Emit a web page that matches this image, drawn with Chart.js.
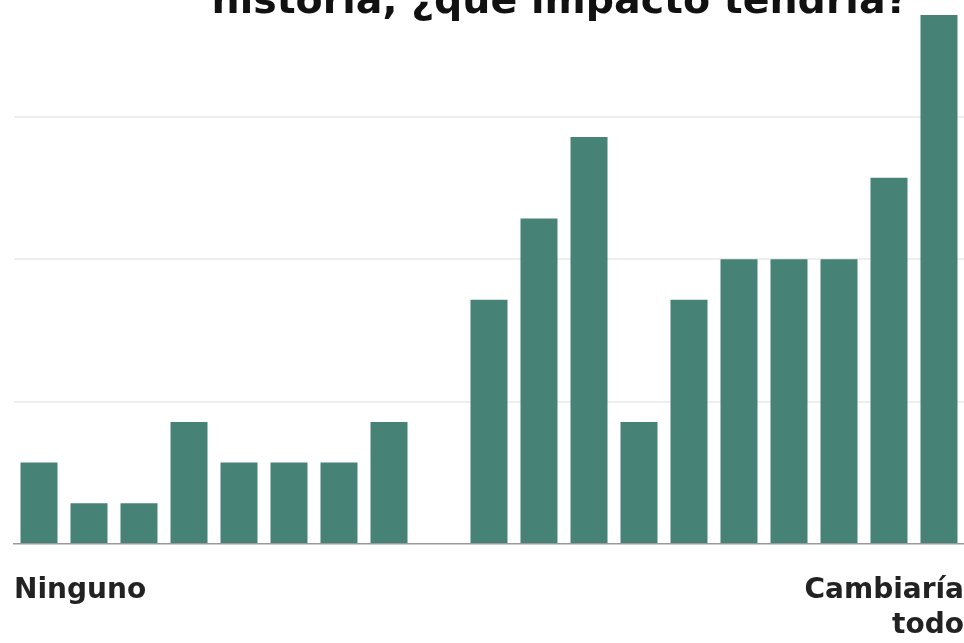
<!DOCTYPE html>
<html>
<head>
<meta charset="utf-8">
<script src="https://cdn.jsdelivr.net/npm/chart.js@4"></script>
<style>
    html, body { margin: 0; padding: 0; background: #fff; overflow: hidden; }
    #chartWrap { position: relative; width: 964px; height: 643px; }
</style>
</head>
<body>
<div id="chartWrap"><canvas id="myChart"></canvas></div>
<script>
// answers per point of the scale (19 points, one without answers)
var categories = ['1', '2', '3', '4', '5', '6', '7', '8', '9', '10',
    '11', '12', '13', '14', '15', '16', '17', '18', '19'];
var responses = [2, 1, 1, 3, 2, 2, 2, 3, 0, 6, 8, 10, 3, 6, 7, 7, 7, 9, 13];
var edgeLabels = ['Ninguno', ['Cambiaría', 'todo']];
var gridValues = [3.5, 7, 10.5];
var titleText = 'historia, ¿qué impacto tendría?';

var barColor = '#468276';
var fontFamily = "'DejaVu Sans', Verdana, sans-serif";

// the title is cut off at the top of the picture, only its last line shows
var titleLine = {
    id: 'titleLine',
    afterDraw: function (chart) {
        var ctx = chart.ctx;
        ctx.save();
        ctx.font = 'bold 39.5px ' + fontFamily;
        ctx.fillStyle = '#111';
        ctx.textAlign = 'center';
        ctx.textBaseline = 'alphabetic';
        ctx.fillText(titleText, 560, 13);
        ctx.restore();
    }
};

function createChart() {
    const config = {
        type: 'bar',
        data: {
            labels: categories,
            datasets: [{
                label: 'Respuestas',
                data: responses,
                backgroundColor: barColor,
                borderWidth: 0,
                barPercentage: 0.74,
                categoryPercentage: 1.0
            }]
        },
        options: {
            responsive: true,
            maintainAspectRatio: false,
            animation: false,
            layout: {
                padding: { left: 14, right: 0, top: 15, bottom: 0 }
            },
            plugins: {
                legend: { display: false },
                title: { display: false },
                tooltip: { enabled: false }
            },
            scales: {
                x: {
                    offset: true,
                    weight: 0,
                    // tick marks are hidden, their length only keeps the gap to the labels
                    grid: { display: false, drawTicks: true, tickLength: 29 },
                    border: { display: true, color: '#9a9a9a', width: 1.5 },
                    ticks: { display: false }
                },
                x2: {
                    type: 'category',
                    position: 'bottom',
                    labels: edgeLabels,
                    offset: false,
                    weight: 1,
                    grid: { display: false, drawTicks: false },
                    border: { display: false },
                    ticks: {
                        autoSkip: false,
                        maxRotation: 0,
                        align: 'inner',
                        padding: 0,
                        color: '#222',
                        font: { family: fontFamily, weight: 'bold', size: 28, lineHeight: 1.25 }
                    }
                },
                y: {
                    min: 0,
                    max: 13,
                    border: { display: false },
                    grid: {
                        drawTicks: false,
                        lineWidth: 2,
                        color: function (c) {
                            if (c.tick && gridValues.indexOf(c.tick.value) >= 0) {
                                return '#eeeeee';
                            }
                            return 'rgba(0,0,0,0)';
                        }
                    },
                    ticks: { display: false, stepSize: 3.5 }
                }
            }
        },
        plugins: [titleLine]
    };

    const ctx = document.getElementById('myChart');
    new Chart(ctx, config);
}

createChart();
</script>
</body>
</html>
